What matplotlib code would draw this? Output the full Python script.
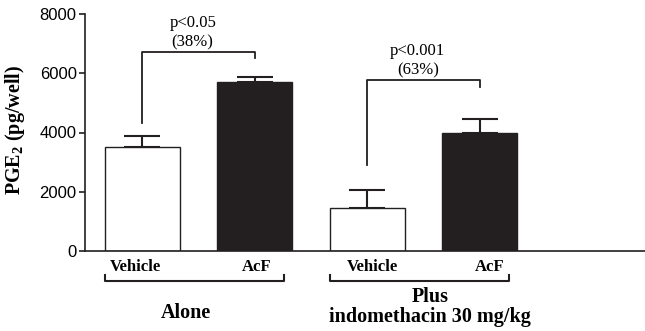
import numpy as np
import matplotlib
matplotlib.use("Agg")
import matplotlib.pyplot as plt

# data
groups = ["Alone", "Plus\nindomethacin 30 mg/kg"]
treatments = ["Vehicle", "AcF", "Vehicle", "AcF"]
pge2_mean = [3500, 5700, 1450, 3980]
pge2_sem = [380, 170, 600, 470]
p_labels = ["p<0.05\n(38%)", "p<0.001\n(63%)"]
y_ticks = [0, 2000, 4000, 6000, 8000]

INK = "#231f20"
SERIF = "Liberation Serif"
SANS = "Liberation Sans"

plt.rcParams["mathtext.fontset"] = "custom"
plt.rcParams["mathtext.bf"] = "Liberation Serif:bold"
plt.rcParams["mathtext.rm"] = "Liberation Serif"

fig = plt.figure(figsize=(6.45, 3.31), dpi=100)
ax = fig.add_axes([85 / 645, 80 / 331, 560 / 645, 237 / 331])

x = np.arange(len(pge2_mean))
colors = ["white", INK, "white", INK]
ax.bar(x, pge2_mean, width=0.667, color=colors, edgecolor=INK, linewidth=1.0, zorder=2)
ax.errorbar(x, pge2_mean, yerr=[np.zeros(len(pge2_sem)), pge2_sem], fmt="none",
            ecolor=INK, elinewidth=1.5, capsize=13, capthick=1.5, zorder=1)

ax.set_xlim(-0.507, 4.47)
ax.set_ylim(0, 8000)
ax.set_yticks(y_ticks)
ax.set_yticklabels([str(t) for t in y_ticks], family=SANS, fontsize=12)
ax.set_xticks([])
for s in ["top", "right"]:
    ax.spines[s].set_visible(False)
for s in ["left", "bottom"]:
    ax.spines[s].set_linewidth(1.2)
    ax.spines[s].set_color(INK)
ax.tick_params(axis="y", length=4, width=1.2, color=INK, pad=2)

ax.set_ylabel(r"PGE$_\mathbf{2}$ (pg/well)", family=SERIF, fontweight="bold",
              fontsize=14.5)
ax.yaxis.set_label_coords(-0.104, 0.51)

# significance brackets
brackets = [(0, 1, 4320, 6720, 6510), (2, 3, 2900, 5770, 5540)]
for (i, j, y0, ytop, y1), lab in zip(brackets, p_labels):
    ax.plot([i, i, j, j], [y0, ytop, ytop, y1], color=INK, lw=1.3)
    l1, l2 = lab.split("\n")
    ax.text((i + j) / 2 - 0.05, ytop + 980, l1, ha="center", va="center",
            family=SERIF, fontsize=12)
    ax.text((i + j) / 2 - 0.05, ytop + 330, l2, ha="center", va="center",
            family=SERIF, fontsize=12)

# treatment labels under the axis
tr = ax.get_xaxis_transform()
offs = [-0.06, 0.02, 0.05, 0.09]
for xi, t, o in zip(x, treatments, offs):
    ax.text(xi + o, -0.068, t, transform=tr, ha="center", va="center",
            family=SERIF, fontweight="bold", fontsize=12, clip_on=False)

# group brackets
for g, (a, b) in enumerate([(0, 1), (2, 3)]):
    xl, xr = a - 0.329, b + 0.262
    ax.plot([xl, xl, xr, xr], [-0.1, -0.125, -0.125, -0.1], transform=tr,
            color=INK, lw=1.5, clip_on=False)

ax.text(0.39, -0.262, groups[0], transform=tr, ha="center", va="center",
        family=SERIF, fontweight="bold", fontsize=14.5, clip_on=False)
ax.text(2.56, -0.235, groups[1], transform=tr, ha="center", va="center",
        family=SERIF, fontweight="bold", fontsize=14.5, linespacing=1.0, clip_on=False)

fig.savefig("out.png", dpi=100)
